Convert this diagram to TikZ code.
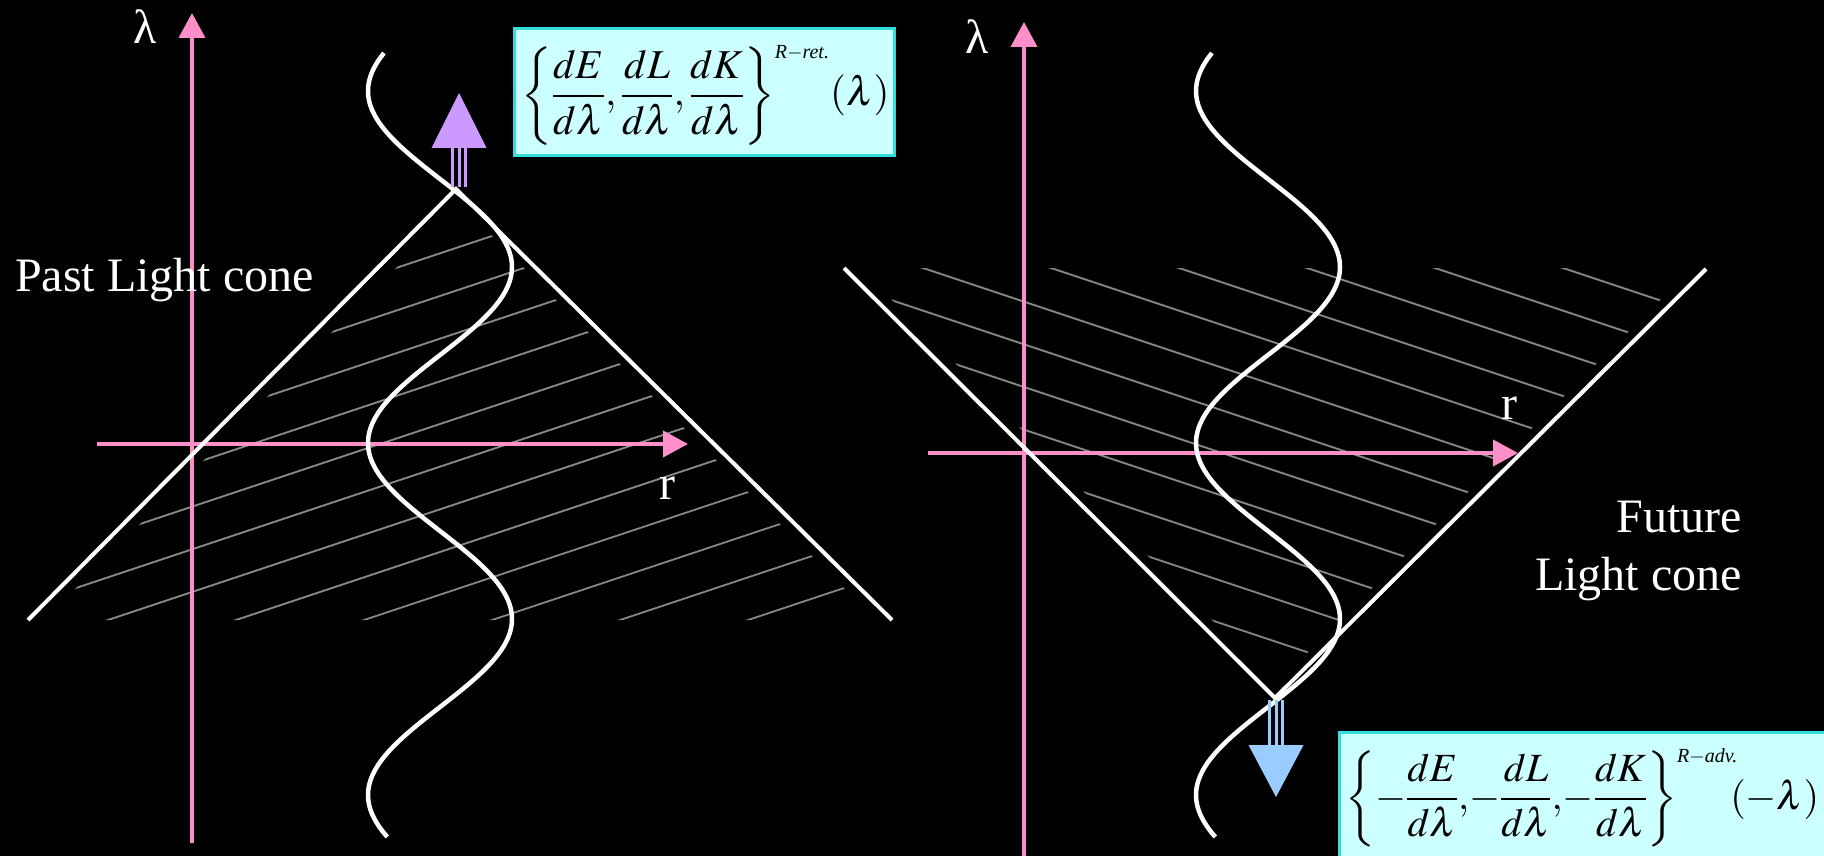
\documentclass[tikz,border=0pt]{standalone}
\usepackage{mathptmx}
\usepackage{fontspec}
\setmainfont{Liberation Serif}
\usetikzlibrary{arrows.meta}
\definecolor{lcPink}{HTML}{FF8FC8}
\definecolor{lcPurple}{HTML}{CC99FF}
\definecolor{lcBlue}{HTML}{99CCFF}
\definecolor{lcHatch}{HTML}{8A8A8A}
\definecolor{lcBoxFill}{HTML}{CCFFFF}
\definecolor{lcBoxLine}{HTML}{33DDDD}

\begin{document}
\begin{tikzpicture}[x=1pt, y=-1pt,
        axis/.style={draw=lcPink, line width=4pt, -{Triangle[length=25pt, width=26pt]}},
        cone/.style={draw=white, line width=4pt},
        hatch/.style={draw=lcHatch, line width=1.8pt},
        wave/.style={draw=white, line width=4.5pt},
        stem/.style={line width=3pt},
        lbl/.style={text=white, font=\fontsize{48}{58}\selectfont, inner sep=0pt},
        formbox/.style={draw=lcBoxLine, line width=3pt, fill=lcBoxFill, anchor=north west},
        form/.style={anchor=base west, inner sep=0pt, font=\fontsize{41}{48}\selectfont}]
        \fill[black] (0,0) rectangle (1824,856);
        \useasboundingbox (0,0) rectangle (1824,856);

        \begin{scope}
          \clip (460,204) -- (44,620) -- (876,620) -- cycle;
          \foreach \k in {0,...,11}
            \draw[hatch] (0,{400+42.67*\k}) -- (900,{100+42.67*\k});
        \end{scope}
        \begin{scope}
          \clip (860,268) -- (1692,268) -- (1276,684) -- cycle;
          \foreach \k in {0,...,11}
            \draw[hatch] (840,{27+42.67*\k}) -- (1710,{317+42.67*\k});
        \end{scope}

        \coordinate (lamAxL0) at (192,843);
        \coordinate (lamAxL1) at (192,13);
        \coordinate (rAxL0) at (97,444);
        \coordinate (rAxL1) at (688,444);
        \coordinate (lamAxR0) at (1024,856);
        \coordinate (lamAxR1) at (1024,22);
        \coordinate (rAxR0) at (928,453);
        \coordinate (rAxR1) at (1518,453);
        \draw[axis] (lamAxL0) -- (lamAxL1);
        \draw[axis] (rAxL0) -- (rAxL1);
        \draw[axis] (lamAxR0) -- (lamAxR1);
        \draw[axis] (rAxR0) -- (rAxR1);

        \coordinate (apexL) at (456,189);
        \coordinate (coneL1) at (28,620);
        \coordinate (coneL2) at (892,620);
        \coordinate (apexR) at (1275,698);
        \coordinate (coneR1) at (844,268);
        \coordinate (coneR2) at (1706,269);
        \draw[cone] (coneL1) -- (apexL) -- (coneL2);
        \draw[cone] (coneR1) -- (apexR) -- (coneR2);

        \draw[wave] plot[variable=\t, domain=53:837, samples=140, smooth] ({440-72*cos((\t-443)/176*180)}, {\t});
        \draw[wave] plot[variable=\t, domain=53:837, samples=140, smooth] ({1268-72*cos((\t-443)/176*180)}, {\t});

        \coordinate (stemL) at (459,187);
        \coordinate (headL) at (459,148);
        \coordinate (tipL) at (459,93);
        \foreach \dx in {-6.5,0,6.5}
          \draw[lcPurple, stem] ([xshift=\dx pt]stemL) -- ([xshift=\dx pt]headL);
        \fill[lcPurple] ([xshift=-27.5pt]headL) -- (tipL) -- ([xshift=27.5pt]headL) -- cycle;

        \coordinate (stemR) at (1276,700);
        \coordinate (headR) at (1276,745);
        \coordinate (tipR) at (1276,797);
        \foreach \dx in {-6.5,0,6.5}
          \draw[lcBlue, stem] ([xshift=\dx pt]stemR) -- ([xshift=\dx pt]headR);
        \fill[lcBlue] ([xshift=-27.5pt]headR) -- (tipR) -- ([xshift=27.5pt]headR) -- cycle;

        \node[lbl] (lamL) at (145,27) {λ};
        \node[lbl] (lamR) at (977,37) {λ};
        \node[lbl] (rL) at (667,488) {r};
        \node[lbl] (rR) at (1509,408) {r};
        \node[lbl, anchor=base west] (pastlbl) at (15,291) {Past Light cone};
        \node[lbl, anchor=base east, align=right] (futurelbl) at (1742,590) {Future\\Light cone};

        \node[formbox, minimum width=380pt, minimum height=127pt] (retbox) at (513,27) {};
        \node[form] (retform) at (521,106) {$\displaystyle\left\{\frac{dE}{d\lambda},\frac{dL}{d\lambda},\frac{dK}{d\lambda}\right\}^{\mbox{\fontsize{20}{20}\selectfont\textit{R}$-$\textit{ret.}}}\kern-4pt(\lambda)$};
        \node[formbox, minimum width=520pt, minimum height=150pt] (advbox) at (1338,731) {};
        \node[form, font=\fontsize{40}{48}\selectfont] (advform) at (1345,809) {$\displaystyle\left\{-\frac{dE}{d\lambda},\!-\frac{dL}{d\lambda},\!-\frac{dK}{d\lambda}\right\}^{\mbox{\fontsize{20}{20}\selectfont\textit{R}$-$\textit{adv.}}}\kern-12pt(-\lambda)$};
      \end{tikzpicture}
\end{document}
